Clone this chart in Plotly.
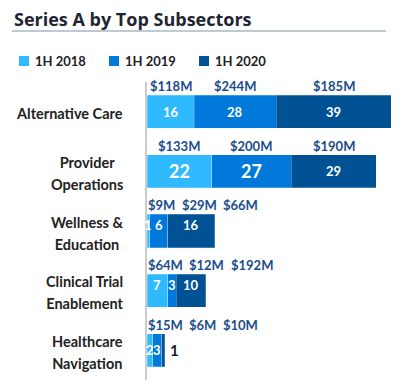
import plotly.graph_objects as go

# ---------------- data ----------------
categories = ["Alternative Care", "Provider Operations", "Wellness & Education",
              "Clinical Trial Enablement", "Healthcare Navigation"]
category_labels = ["Alternative Care", "Provider<br>Operations", "Wellness &<br>Education",
                   "Clinical Trial<br>Enablement", "Healthcare<br>Navigation"]
series_names = ["1H 2018", "1H 2019", "1H 2020"]
deals_2018 = [16, 22, 1, 7, 2]
deals_2019 = [28, 27, 6, 3, 3]
deals_2020 = [39, 29, 16, 10, 1]
amount_2018 = ["$118M", "$133M", "$9M", "$64M", "$15M"]
amount_2019 = ["$244M", "$200M", "$29M", "$12M", "$6M"]
amount_2020 = ["$185M", "$190M", "$66M", "$192M", "$10M"]

deals = [deals_2018, deals_2019, deals_2020]
amounts = [amount_2018, amount_2019, amount_2020]

# ---------------- style ----------------
colors = ["#2fb9ff", "#0079db", "#005294"]
W, H = 417, 383
ML, MR, MT, MB = 147, 6, 82, 3
PW, PH = W - ML - MR, H - MT - MB
XMAX = 89.8
SCALE = PW / XMAX
FONT = "Lato"
label_raise = [0, 0, 6, 6, 0]


def px2x(px):
    return (px - ML) / PW


def py2y(py):
    return (H - MB - py) / PH


fig = go.Figure()
for s in range(3):
    fig.add_trace(go.Bar(
        y=categories, x=deals[s], orientation="h", name=series_names[s],
        marker=dict(color=colors[s], line=dict(color="rgba(255,255,255,0.3)", width=0.8)),
        showlegend=False, hoverinfo="x+name",
    ))

annotations = []
shapes = []

# title and rule
annotations.append(dict(
    xref="paper", yref="paper", x=px2x(12), y=py2y(19), xanchor="left", yanchor="middle",
    text="<b>Series A by Top Subsectors</b>", showarrow=False,
    font=dict(family="Open Sans", size=18, color="#1e2533")))
shapes.append(dict(type="line", xref="paper", yref="paper",
                   x0=px2x(12), x1=px2x(386), y0=py2y(31), y1=py2y(31),
                   line=dict(color="#aab7c4", width=1.5)))

# manual legend
legend_px = [19, 109, 199]
for s in range(3):
    lx = legend_px[s]
    shapes.append(dict(type="rect", xref="paper", yref="paper",
                       x0=px2x(lx), x1=px2x(lx + 10), y0=py2y(56), y1=py2y(66),
                       fillcolor=colors[s], line=dict(width=0)))
    annotations.append(dict(
        xref="paper", yref="paper", x=px2x(lx + 14), y=py2y(61), xanchor="left", yanchor="middle",
        text="<b>" + series_names[s] + "</b>", showarrow=False,
        font=dict(family=FONT, size=13, color="#222222")))

# category labels (base font sets the line spacing, span sets glyph size)
for i, lab in enumerate(category_labels):
    lines = lab.split("<br>")
    txt = "<br>".join('<span style="font-size:14.5px"><b>' + ln + "</b></span>" for ln in lines)
    annotations.append(dict(
        xref="paper", yref="y", x=px2x(125), y=categories[i], xanchor="right", yanchor="middle",
        align="center", text=txt, showarrow=False,
        yshift=-2, font=dict(family=FONT, size=16.7, color="#222222")))

# value labels
bar_half_px = 0.554 * PH / len(categories) / 2
for i, cat in enumerate(categories):
    cum = 0.0
    prev_end = ML + 3 - 11
    for s in range(3):
        v = deals[s][i]
        seg_center_px = ML + (cum + v / 2) * SCALE
        # amount label above (avoid overlaps)
        txt = amounts[s][i]
        w = 7.6 * len(txt)
        c = max(seg_center_px, prev_end + 11 + w / 2)
        prev_end = c + w / 2
        annotations.append(dict(
            xref="x", yref="y", x=(c - ML) / SCALE, y=cat, xanchor="center", yanchor="middle",
            yshift=bar_half_px + 9, text="<b>" + txt + "</b>", showarrow=False,
            font=dict(family=FONT, size=13, color="#1b4d8c")))
        # deal count label
        seg_px = v * SCALE
        size = 18 if (i == 1 and s < 2) else 13
        if s == 2 and seg_px < 12:
            annotations.append(dict(
                xref="x", yref="y", x=cum + v, y=cat, xanchor="left", yanchor="middle",
                xshift=3, text="<b>" + str(v) + "</b>", showarrow=False,
                font=dict(family=FONT, size=15, color="#1a1a2a")))
        else:
            annotations.append(dict(
                xref="x", yref="y", x=cum + v / 2, y=cat, xanchor="center", yanchor="middle",
                yshift=label_raise[i], text="<b>" + str(v) + "</b>", showarrow=False,
                font=dict(family=FONT, size=size, color="white")))
        cum += v

fig.update_layout(
    width=W, height=H, barmode="stack", bargap=0.446,
    margin=dict(l=ML, r=MR, t=MT, b=MB, pad=0),
    paper_bgcolor="white", plot_bgcolor="white",
    xaxis=dict(range=[0, XMAX], visible=False, fixedrange=True),
    yaxis=dict(type="category", categoryarray=categories, range=[4.5, -0.5],
               showticklabels=False, ticks="", showgrid=False, zeroline=False,
               showline=True, linecolor="#cccccc", linewidth=1.5, fixedrange=True),
    annotations=annotations, shapes=shapes, showlegend=False,
)

fig.write_html("out.html", config={"displayModeBar": False},
               post_script="document.body.style.margin='0';document.body.style.overflow='hidden';")
